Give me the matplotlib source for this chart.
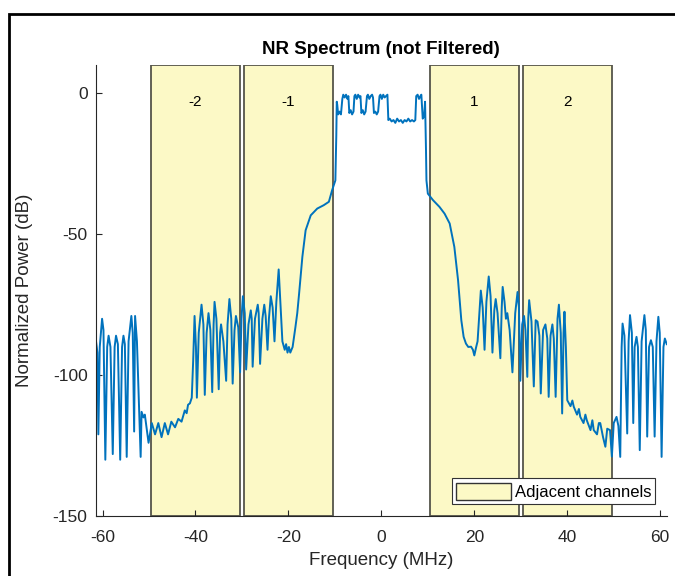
import numpy as np
import matplotlib
matplotlib.use('Agg')
import matplotlib.pyplot as plt
import matplotlib.patches as patches

plt.rcParams['font.family'] = ['Liberation Sans', 'DejaVu Sans']
plt.rcParams['axes.unicode_minus'] = False

# spectrum trace, (MHz, dB) pairs per segment
left_tail = [
    (-61.4, -88), (-61.1, -92), (-60.9, -121), (-60.6, -90), (-60.1, -80),
    (-59.8, -84), (-59.4, -130), (-59.0, -90), (-58.7, -86), (-58.3, -90),
    (-57.8, -128), (-57.4, -90), (-57.1, -86), (-56.7, -89), (-56.2, -130),
    (-55.8, -90), (-55.5, -86), (-55.2, -89), (-54.8, -129), (-54.4, -88),
    (-53.8, -79), (-53.5, -85), (-53.2, -120), (-53.0, -79), (-52.6, -88),
    (-51.8, -129), (-51.6, -113), (-51.2, -115), (-50.9, -114), (-50.5, -119),
    (-50.1, -124),
]
left_floor = [
    (-49.4, -117), (-48.7, -121), (-48.0, -117), (-47.3, -122), (-46.6, -117),
    (-45.9, -121), (-45.2, -116.5), (-44.4, -118.5), (-43.7, -115.5),
    (-43.0, -116.5), (-42.3, -112.5), (-41.9, -113.5), (-41.6, -110.5),
    (-41.2, -110), (-40.8, -108),
]
left_adj = [
    (-40.5, -95), (-40.2, -79), (-39.9, -90), (-39.7, -108), (-39.3, -85),
    (-38.7, -75), (-38.3, -82), (-38.0, -107), (-37.6, -85), (-37.2, -78),
    (-36.8, -84), (-36.4, -106), (-36.1, -82), (-35.9, -74), (-35.5, -80),
    (-35.0, -105), (-34.7, -85), (-34.5, -82), (-34.0, -88), (-33.4, -102),
    (-33.1, -82), (-32.7, -73), (-32.3, -80), (-32.0, -103), (-31.6, -84),
    (-31.3, -79), (-30.8, -83), (-30.4, -99), (-30.1, -80), (-29.8, -72),
    (-29.4, -78), (-29.1, -98), (-28.6, -82), (-28.1, -77), (-27.9, -80),
    (-27.7, -97), (-27.2, -80), (-26.6, -75), (-26.4, -78), (-26.1, -96),
    (-25.6, -80), (-25.2, -75), (-24.9, -79), (-24.5, -91), (-24.2, -80),
    (-23.8, -72), (-23.4, -76), (-23.0, -88), (-22.6, -74), (-22.1, -62.5),
    (-21.7, -75), (-21.3, -88), (-20.8, -91), (-20.5, -89), (-20.2, -92),
    (-19.9, -90), (-19.6, -92), (-19.1, -90),
]
left_skirt = [
    (-18.5, -83), (-18.1, -78), (-17.7, -71), (-17.0, -58), (-16.3, -48.6),
    (-15.2, -43.3), (-13.8, -40.9), (-12.4, -39.7), (-11.3, -38.5),
    (-10.6, -34.4), (-9.9, -30.9), (-9.7, -15),
]
inband = [
    (-9.6, -3), (-9.5, -4), (-9.3, -7.5), (-9.0, -6.5), (-8.7, -7.5),
    (-8.4, -2), (-8.2, -0.5), (-7.9, -1.5), (-7.6, -0.5), (-7.3, -2), (-7.1, -1),
    (-6.9, -7), (-6.6, -6), (-6.3, -7.5), (-6.0, -6.5), (-5.8, -1),
    (-5.6, -0.5), (-5.3, -2), (-5.0, -0.5), (-4.7, -1.5), (-4.5, -1),
    (-4.3, -7), (-4.0, -6), (-3.7, -7.5), (-3.4, -6.5), (-3.1, -1),
    (-2.9, -0.5), (-2.6, -2), (-2.3, -1), (-2.0, -0.5), (-1.8, -1.5),
    (-1.6, -7), (-1.3, -6.5), (-1.0, -7.5), (-0.7, -6.5), (-0.4, -1),
    (-0.2, -0.5), (0.1, -2), (0.4, -0.5), (0.7, -1.5), (1.0, -1), (1.3, -0.5),
    (1.5, -9.5), (1.8, -9), (2.2, -10), (2.6, -9.5), (3.0, -10.5), (3.4, -9),
    (3.8, -10), (4.2, -9.5), (4.6, -10.5), (5.0, -9.5), (5.4, -10), (5.8, -9),
    (6.2, -10), (6.6, -9.5), (7.0, -10), (7.3, -9.5),
    (7.5, -1), (7.8, -0.5), (8.1, -2), (8.4, -1), (8.6, -0.5), (8.9, -9),
    (9.2, -8), (9.4, -3), (9.6, -20),
]
right_skirt = [
    (9.7, -30.9), (10.0, -35.6), (11.1, -37.9), (12.5, -40.3), (13.6, -42.7),
    (14.7, -46.2), (15.7, -54.5), (16.5, -66.3), (17.2, -80.5), (17.7, -86.4),
    (18.2, -88.8), (18.7, -90), (19.3, -89.9), (19.7, -91), (20.0, -93),
    (20.4, -90), (20.7, -88),
]
right_adj = [
    (21.4, -70), (21.8, -76), (22.2, -91), (22.6, -74), (23.1, -65),
    (23.5, -72), (23.9, -92), (24.3, -77), (24.6, -73), (25.0, -78),
    (25.6, -94), (25.9, -76), (26.1, -68.7), (26.5, -74), (26.8, -80),
    (27.1, -78), (27.6, -84), (28.2, -99), (28.8, -78), (29.3, -70.5),
    (29.6, -76), (29.9, -102), (30.3, -82), (30.7, -79), (31.0, -84),
    (31.4, -100.6), (31.6, -80), (31.8, -73.4), (32.3, -81), (32.8, -104),
    (33.2, -80.5), (33.6, -81), (34.0, -86), (34.3, -106.5), (34.8, -84),
    (35.3, -82), (35.7, -87), (36.0, -107.7), (36.4, -86), (36.8, -82),
    (37.1, -87), (37.5, -107.7), (37.9, -80), (38.2, -75), (38.6, -85),
    (38.9, -113.6), (39.2, -85), (39.4, -77.5), (39.7, -90), (40.0, -108.9),
]
right_floor = [
    (40.7, -111), (41.1, -109), (41.4, -111.2), (42.1, -114), (42.5, -112),
    (42.8, -114.8), (43.5, -117), (43.9, -114), (44.2, -116), (45.0, -119.5),
    (45.4, -116), (45.7, -119.5), (46.4, -121), (46.8, -117), (47.1, -117),
    (47.7, -122), (48.2, -125.4), (48.6, -119), (49.2, -119.5),
    (49.6, -128.9), (50.0, -117), (50.6, -114.8),
]
right_tail = [
    (51.0, -118), (51.4, -129), (51.7, -90), (51.9, -81.7), (52.3, -86),
    (52.9, -120.7), (53.2, -88), (53.5, -78.7), (53.9, -85), (54.2, -117),
    (54.5, -90), (54.9, -86.4), (55.2, -90), (55.6, -126.6), (56.0, -88),
    (56.6, -78.7), (56.9, -84), (57.2, -121.8), (57.6, -90), (58.0, -87.6),
    (58.4, -90), (58.8, -121.8), (59.2, -88), (59.6, -79.3), (59.9, -85),
    (60.3, -129), (60.7, -90), (61.0, -87), (61.4, -89),
]

# adjacent channel boxes
chan_centers = [-40, -20, 20, 40]
chan_labels = ['-2', '-1', '1', '2']
chan_bw = 19.08

trace = (left_tail + left_floor + left_adj + left_skirt + inband +
         right_skirt + right_adj + right_floor + right_tail)
freq = [p[0] for p in trace]
power = [p[1] for p in trace]

fig = plt.figure(figsize=(6.75, 5.76), dpi=100)
ax = fig.add_axes([0.142, 0.104, 0.846, 0.783])

txt = '#262626'
for c, lab in zip(chan_centers, chan_labels):
    rect = patches.Rectangle((c - chan_bw / 2, -150), chan_bw, 160,
                             facecolor='#fcf9c6', edgecolor='#55554a',
                             linewidth=1.3, zorder=1)
    ax.add_patch(rect)
    ax.text(c, -3, lab, ha='center', va='center', fontsize=11, color='black', zorder=3)

ax.plot(freq, power, color='#0072BD', linewidth=1.4, zorder=2)

# legend uses a proxy patch like MATLAB's patch entry
proxy = patches.Patch(facecolor='#fcf9c6', edgecolor='#333333', linewidth=1.0,
                      label='Adjacent channels')
leg = ax.legend(handles=[proxy], loc='lower right', bbox_to_anchor=(0.98, 0.027),
                fancybox=False, framealpha=1, edgecolor='#333333', fontsize=12,
                handlelength=3.3, handleheight=1.2, borderpad=0.25,
                handletextpad=0.2, borderaxespad=0)
leg.get_frame().set_linewidth(0.8)

ax.set_xlim(-61.44, 61.44)
ax.set_ylim(-150, 10)
ax.set_xticks([-60, -40, -20, 0, 20, 40, 60])
ax.set_yticks([-150, -100, -50, 0])
ax.tick_params(direction='in', length=4, width=0.8, colors=txt, labelsize=12.5)
ax.tick_params(axis='x', pad=10)
ax.tick_params(axis='y', pad=6)
for s in ['top', 'right']:
    ax.spines[s].set_visible(False)
for s in ['left', 'bottom']:
    ax.spines[s].set_color(txt)
    ax.spines[s].set_linewidth(0.8)

ax.set_title('NR Spectrum (not Filtered)', fontsize=13.5, fontweight='bold', color='black', pad=8)
ax.set_xlabel('Frequency (MHz)', fontsize=13.5, color=txt, labelpad=5)
ax.set_ylabel('Normalized Power (dB)', fontsize=13.5, color=txt, labelpad=14)

# dark frame around the screenshot
frame = patches.Rectangle((9 / 675, -0.05), 1.1, 1 - 14 / 576 + 0.05,
                          transform=fig.transFigure, fill=False,
                          edgecolor='black', linewidth=2)
fig.patches.append(frame)

fig.savefig('out.png', dpi=100)
